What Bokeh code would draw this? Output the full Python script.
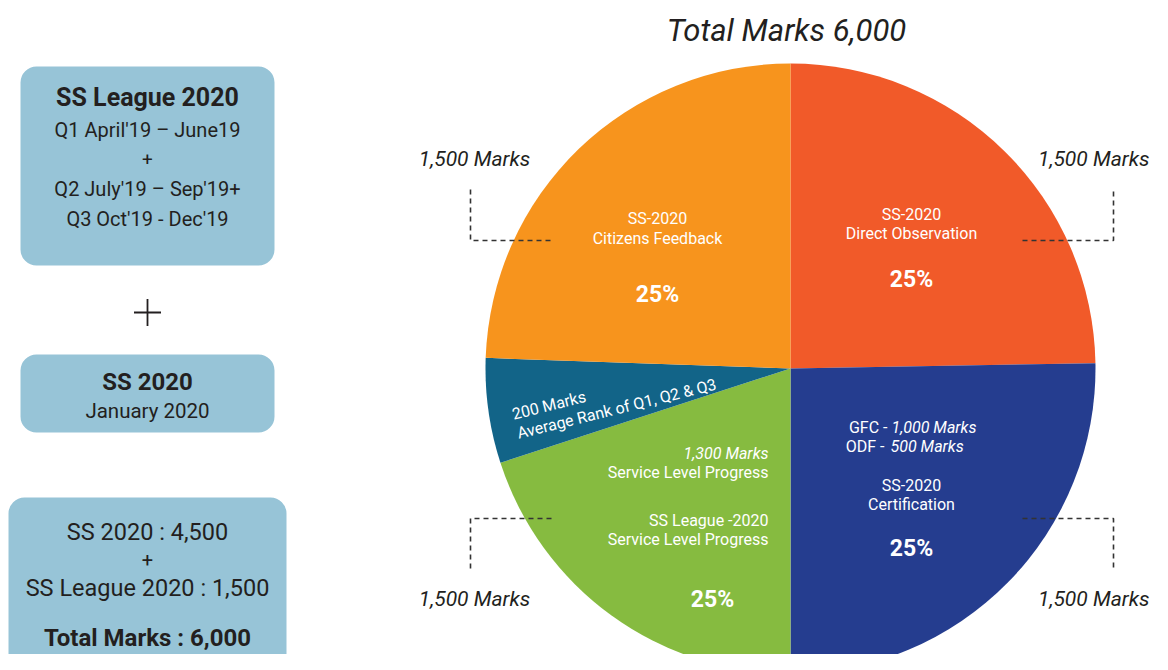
from bokeh.plotting import figure
from bokeh.models import Range1d, BoxAnnotation, ColumnDataSource
from bokeh.core.properties import value
from bokeh.embed import file_html
from bokeh.resources import INLINE
import numpy as np

# ---------------- data ----------------
segments = ["SS-2020 Direct Observation", "SS-2020 Certification",
            "Service Level Progress", "Average Rank of Q1, Q2 & Q3",
            "SS-2020 Citizens Feedback"]
marks = [1500, 1500, 1300, 200, 1500]
drawn_deg = [89, 91, 72, 20, 88]          # slice sizes as drawn in the picture
colors = ["#F15A29", "#253D8F", "#86BB40", "#126488", "#F7941D"]
total_marks = 6000
quarter_marks = ["1,500 Marks", "1,500 Marks", "1,500 Marks", "1,500 Marks"]

box1_lines = ["SS League 2020", "Q1 April'19 – June19", "+", "Q2 July'19 – Sep'19+", "Q3 Oct'19 - Dec'19"]
box2_lines = ["SS 2020", "January 2020"]
box3_lines = ["SS 2020 : 4,500", "+", "SS League 2020 : 1,500", "Total Marks : 6,000"]

FONT = value("Roboto")
DARK = "#231F20"
BOXC = "#97C4D7"

W, H = 1152, 654
p = figure(width=W, height=H, x_range=Range1d(0, W), y_range=Range1d(670 - H, 670),
           output_backend="svg", toolbar_location=None, min_border=0,
           x_axis_type=None, y_axis_type=None)
p.grid.visible = False
p.outline_line_color = None
p.background_fill_color = "white"


def Y(py):
    return 670 - py


def txt(x, py, s, size, style="normal", color=DARK, align="center", baseline="middle", angle=0.0):
    p.text(x=[x], y=[Y(py)], text=[s], text_font=FONT, text_font_size=f"{size}px",
           text_font_style=style, text_color=color, text_align=align,
           text_baseline=baseline, angle=np.deg2rad(angle))


# ---------------- left boxes ----------------
for (l, r, t, b) in [(20, 274, 66, 265), (20, 274, 354, 432), (8, 286, 497, 700)]:
    p.add_layout(BoxAnnotation(left=l, right=r, top=Y(t), bottom=Y(b), fill_color=BOXC,
                               fill_alpha=1, line_alpha=0, border_radius=16, level="underlay"))

cx = 147
txt(cx, 97, box1_lines[0], 25, "bold")
txt(cx, 129, box1_lines[1], 20)
txt(cx, 159, box1_lines[2], 19)
txt(cx, 188, box1_lines[3], 20)
txt(cx, 218, box1_lines[4], 20)

p.scatter(x=[cx], y=[Y(312)], marker="cross", size=27, line_width=1.8, line_color=DARK)

txt(cx, 381, box2_lines[0], 24, "bold")
txt(cx, 410, box2_lines[1], 20.5)

txt(cx, 531, box3_lines[0], 23.5)
txt(cx, 559, box3_lines[1], 20)
txt(cx, 587, box3_lines[2], 23.5)
txt(cx, 637, box3_lines[3], 24, "bold")

# ---------------- pie ----------------
cum = np.cumsum([0] + drawn_deg)
end = np.deg2rad(90 - cum[:-1])
start = np.deg2rad(90 - cum[1:])
src = ColumnDataSource(dict(start=start, end=end, color=colors, seg=segments, marks=marks))
p.wedge(x=790, y=Y(368), radius=305, start_angle="start", end_angle="end",
        fill_color="color", line_color=None, source=src)

# title
txt(786, 30, f"Total Marks {total_marks:,}", 31, "italic", color="#231F20")

# leader lines
dash = dict(line_dash="5 4", line_color="#333333", line_width=1.6)
p.line(x=[470, 470, 551], y=[Y(189), Y(240), Y(240)], **dash)
p.line(x=[1022, 1113, 1113], y=[Y(240), Y(240), Y(189)], **dash)
p.line(x=[551, 470, 470], y=[Y(518), Y(518), Y(569)], **dash)
p.line(x=[1022, 1113, 1113], y=[Y(518), Y(518), Y(569)], **dash)

txt(474, 158, quarter_marks[0], 21, "italic")
txt(1149, 158, quarter_marks[1], 21, "italic", align="right")
txt(474, 598, quarter_marks[2], 21, "italic")
txt(1149, 598, quarter_marks[3], 21, "italic", align="right")

W_ = "white"
# orange
txt(657, 218, "SS-2020", 16, color=W_)
txt(657, 238, "Citizens Feedback", 16, color=W_)
txt(657, 294, "25%", 23, "bold", color=W_)
# red
txt(911, 214, "SS-2020", 16, color=W_)
txt(911, 233, "Direct Observation", 16, color=W_)
txt(911, 279, "25%", 23, "bold", color=W_)
# blue
txt(887, 427, "GFC -", 16, color=W_, align="right")
txt(891, 427, f"{1000:,} Marks", 16, "italic", color=W_, align="left")
txt(884, 446, "ODF -", 16, color=W_, align="right")
txt(890, 446, f"{500} Marks", 16, "italic", color=W_, align="left")
txt(911, 485, "SS-2020", 16, color=W_)
txt(911, 504, "Certification", 16, color=W_)
txt(911, 548, "25%", 23, "bold", color=W_)
# green
txt(768, 453, f"{marks[2]:,} Marks", 16, "italic", color=W_, align="right")
txt(768, 472, "Service Level Progress", 16, color=W_, align="right")
txt(768, 520, "SS League -2020", 16, color=W_, align="right")
txt(768, 539, "Service Level Progress", 16, color=W_, align="right")
txt(712, 599, "25%", 23, "bold", color=W_)
# teal (rotated)
txt(512, 414, f"{marks[3]} Marks", 16, color=W_, align="left", baseline="alphabetic", angle=14)
txt(517, 433, "Average Rank of  Q1, Q2 & Q3", 16, color=W_, align="left", baseline="alphabetic", angle=14)

open("out.html", "w").write(file_html(p, INLINE))
